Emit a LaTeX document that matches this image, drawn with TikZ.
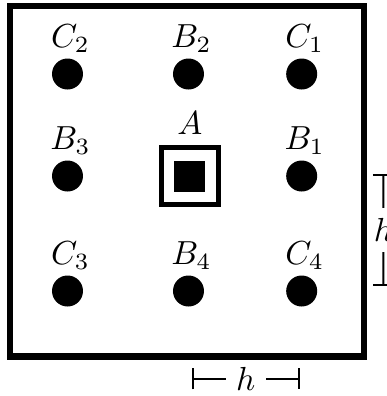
\documentclass[tikz,border=0pt]{standalone}
\usepackage{amsmath}
\usetikzlibrary{arrows.meta,positioning,calc}

\begin{document}
\begin{tikzpicture}[
  x=0.3pt,y=-0.3pt,
  dot/.style={circle,fill=black,inner sep=0pt,minimum size=9.3pt},
  hole/.style={draw,line width=1.4pt,inner sep=0pt,minimum size=17.1pt},
  core/.style={fill=black,inner sep=0pt,minimum size=9.3pt},
  lbl/.style={inner sep=0pt},
  dim/.style={-{Bar[width=6.3pt]},line width=0.6pt},
  dimlbl/.style={inner sep=3pt}
]
\useasboundingbox (0,0) rectangle (387,396);
\draw[line width=1.9pt] (10.3,5.8) rectangle (363.7,356.5);

% outer holes
\foreach \n/\x/\y/\t in {c2/67.5/74/C_2, b2/188.5/74/B_2, c1/301.7/74/C_1,
                         b3/67.5/176/B_3, b1/301.7/176/B_1,
                         c3/67.5/291/C_3, b4/188.5/291/B_4, c4/301.7/291/C_4}{
  \node[dot] (\n) at (\x,\y) {};
  \node[lbl,above=3.2pt of \n,anchor=base,xshift=0.9pt] (l\n) {$\t$};
}

% centre hole
\node[hole] (a) at (190,176.3) {};
\node[core] (a0) at (a) {};
\node[lbl,above=3.2pt of a,anchor=base] (la) {$A$};

% spacing
\coordinate (hx1) at (191.7,378.8);
\coordinate (hx2) at (300,378.8);
\node[dimlbl] (hx) at ($(hx1)!0.5!(hx2)$) {$h$};
\draw[dim] (hx) -- (hx1);
\draw[dim] (hx) -- (hx2);

\coordinate (hy1) at (383.5,174);
\coordinate (hy2) at (383.5,286);
\node[dimlbl] (hy) at ($(hy1)!0.5!(hy2)$) {$h$};
\draw[dim] (hy) -- (hy1);
\draw[dim] (hy) -- (hy2);
\end{tikzpicture}
\end{document}
